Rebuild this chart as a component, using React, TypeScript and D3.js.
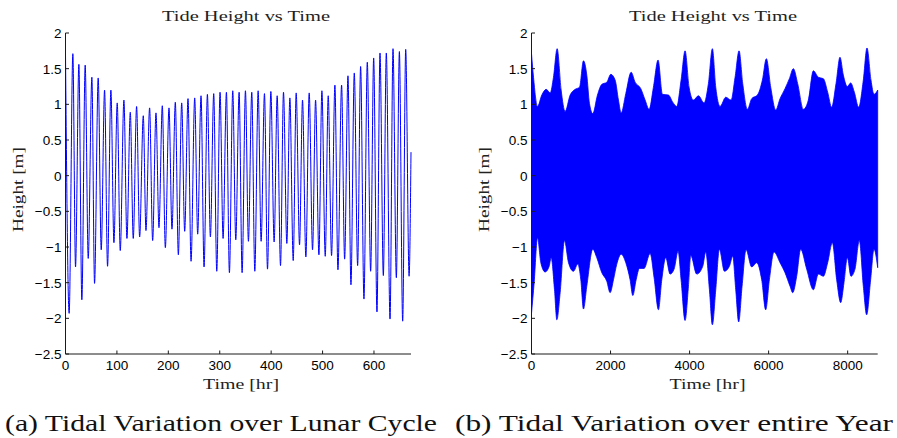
import React from 'react';
import * as d3 from 'd3';

// ---- Data ----
const yTickValues = [2, 1.5, 1, 0.5, 0, -0.5, -1, -1.5, -2, -2.5];
const lunarXTicks = [0, 100, 200, 300, 400, 500, 600];
const yearXTicks = [0, 2000, 4000, 6000, 8000];

// (a) Lunar cycle: high waters and low waters [hr], [m]
const lunarPeakTimes = [0, 14.3, 26.0, 38.3, 51.3, 63.6, 76.0, 88.3, 100.6, 113.6, 126.0, 138.3, 151.3, 163.6, 176.0, 188.3, 201.3, 213.6, 226.0, 238.3, 251.3, 263.6, 276.0, 288.3, 300.6, 313.0, 325.3, 337.7, 350.0, 362.3, 374.7, 387.0, 399.4, 411.7, 424.0, 436.4, 448.7, 461.0, 474.0, 486.4, 498.7, 511.0, 524.0, 537.0, 549.4, 561.7, 574.0, 587.0, 599.4, 611.7, 624.0, 637.0, 649.4, 661.7];
const lunarPeakValues = [1.70, 1.71, 1.56, 1.55, 1.38, 1.37, 1.20, 1.20, 1.02, 1.06, 0.89, 0.97, 0.84, 0.95, 0.88, 0.98, 0.95, 1.03, 1.02, 1.08, 1.09, 1.12, 1.14, 1.15, 1.17, 1.17, 1.19, 1.17, 1.19, 1.17, 1.19, 1.15, 1.18, 1.12, 1.17, 1.09, 1.16, 1.06, 1.16, 1.06, 1.19, 1.12, 1.27, 1.27, 1.40, 1.44, 1.53, 1.59, 1.65, 1.72, 1.72, 1.78, 1.74, 1.77];
const lunarTroughTimes = [7.1, 19.5, 31.8, 44.2, 56.5, 69.5, 81.8, 94.2, 106.5, 119.5, 131.8, 144.2, 156.5, 169.5, 181.8, 194.2, 207.1, 219.5, 231.8, 244.2, 257.1, 269.5, 281.8, 294.2, 306.5, 318.8, 331.2, 343.5, 355.8, 368.2, 380.5, 392.9, 405.8, 418.2, 430.5, 442.9, 455.2, 467.5, 480.5, 492.9, 505.2, 517.5, 529.9, 542.9, 555.2, 568.2, 580.5, 593.5, 605.8, 618.2, 631.2, 643.5, 655.8, 668.3];
const lunarTroughValues = [-1.93, -1.28, -1.74, -1.16, -1.51, -1.04, -1.27, -0.94, -1.05, -0.88, -0.88, -0.86, -0.77, -0.91, -0.73, -1.01, -0.75, -1.11, -0.78, -1.20, -0.82, -1.28, -0.86, -1.34, -0.88, -1.36, -0.90, -1.36, -0.92, -1.34, -0.92, -1.31, -0.93, -1.26, -0.95, -1.19, -0.97, -1.14, -1.04, -1.11, -1.13, -1.12, -1.32, -1.17, -1.53, -1.26, -1.73, -1.34, -1.91, -1.40, -2.01, -1.43, -2.04, -1.41];
const lunarEndTime = 672;
const lunarEndValue = 0.33;

// (b) Entire year: envelope of high waters and low waters [hr], [m]
const yearUpperTimes = [0, 51, 152, 261, 371, 472, 556, 649, 750, 851, 978, 1104, 1214, 1315, 1399, 1467, 1551, 1669, 1779, 1905, 2006, 2116, 2200, 2268, 2386, 2521, 2622, 2765, 2875, 2976, 3085, 3203, 3313, 3465, 3574, 3675, 3785, 3886, 3987, 4097, 4223, 4367, 4476, 4577, 4662, 4771, 4915, 5050, 5151, 5252, 5345, 5463, 5572, 5716, 5842, 5943, 6053, 6179, 6289, 6415, 6525, 6626, 6735, 6879, 7005, 7132, 7258, 7385, 7494, 7595, 7705, 7806, 7890, 7992, 8076, 8169, 8278, 8396, 8489, 8590, 8666, 8760];
const yearUpperValues = [1.71, 1.38, 0.97, 1.13, 1.21, 1.16, 1.38, 1.78, 1.20, 0.90, 1.13, 1.21, 1.24, 1.61, 1.41, 1.01, 0.87, 1.13, 1.28, 1.31, 1.42, 1.34, 1.06, 0.88, 1.15, 1.45, 1.31, 1.22, 1.06, 0.93, 1.24, 1.62, 1.14, 1.13, 1.03, 0.97, 1.34, 1.75, 1.24, 1.06, 1.12, 1.02, 1.29, 1.78, 1.24, 0.97, 1.10, 1.06, 1.38, 1.75, 1.29, 0.93, 1.08, 1.13, 1.34, 1.64, 1.24, 0.92, 1.08, 1.22, 1.36, 1.50, 1.29, 0.93, 1.06, 1.47, 1.38, 1.36, 1.17, 0.96, 1.29, 1.66, 1.41, 1.25, 1.30, 1.17, 0.96, 1.34, 1.79, 1.34, 1.14, 1.20];
const yearLowerTimes = [0, 67, 152, 236, 346, 447, 497, 582, 641, 725, 835, 936, 1062, 1172, 1248, 1315, 1399, 1551, 1652, 1779, 1905, 1989, 2074, 2158, 2268, 2386, 2495, 2563, 2647, 2731, 2849, 3001, 3102, 3212, 3296, 3397, 3507, 3608, 3709, 3785, 3886, 3971, 4030, 4181, 4333, 4409, 4502, 4577, 4662, 4754, 4881, 5007, 5092, 5168, 5243, 5328, 5429, 5572, 5699, 5825, 5926, 6019, 6137, 6289, 6415, 6542, 6609, 6710, 6811, 6963, 7132, 7258, 7385, 7494, 7612, 7722, 7823, 7907, 7992, 8084, 8185, 8295, 8396, 8480, 8581, 8666, 8760];
const yearLowerValues = [-1.93, -1.50, -0.87, -1.22, -1.35, -1.27, -1.15, -1.60, -2.02, -1.64, -0.91, -1.22, -1.34, -1.24, -1.46, -1.87, -1.55, -1.03, -1.15, -1.36, -1.48, -1.64, -1.46, -1.24, -1.10, -1.22, -1.46, -1.68, -1.46, -1.30, -1.30, -1.09, -1.43, -1.88, -1.46, -1.15, -1.38, -1.31, -1.06, -1.46, -2.03, -1.55, -1.12, -1.38, -1.27, -1.07, -1.60, -2.09, -1.60, -1.03, -1.34, -1.27, -1.13, -1.60, -2.05, -1.55, -1.04, -1.28, -1.22, -1.46, -1.88, -1.46, -1.07, -1.22, -1.36, -1.55, -1.64, -1.41, -1.03, -1.31, -1.60, -1.38, -1.41, -1.22, -0.94, -1.46, -1.78, -1.50, -1.15, -1.41, -1.31, -0.91, -1.55, -1.95, -1.46, -1.03, -1.29];

const titleText = 'Tide Height vs Time';
const xLabelText = 'Time [hr]';
const yLabelText = 'Height [m]';
const captionA = '(a) Tidal Variation over Lunar Cycle';
const captionB = '(b) Tidal Variation over entire Year';

// ---- Layout ----
const W = 897;
const H = 438;
const PLOT_TOP = 33;
const PLOT_BOTTOM = 354;
const SERIF = "'Liberation Serif', 'Times New Roman', 'DejaVu Serif', serif";
const SANS = "'Liberation Sans', Arial, Helvetica, sans-serif";
const AXIS_COLOR = '#1a1a1a';
const LINE_BLUE = '#0000ff';

const yScale = d3.scaleLinear().domain([-2.5, 2]).range([PLOT_BOTTOM, PLOT_TOP]);

function fmt(v: number): string {
  const s = String(Math.abs(v));
  return v < 0 ? '\u2212' + s : s;
}

const sansStyle: React.CSSProperties = { fontFamily: SANS, fontSize: '13.5px' };
const serifStyle: React.CSSProperties = { fontFamily: SERIF, fontSize: '14.5px' };

type AxesProps = {
  x: d3.ScaleLinear<number, number>;
  xTicks: number[];
  titleX: number;
  xLabelX: number;
  yLabelX: number;
  children?: React.ReactNode;
};

function Axes({ x, xTicks, titleX, xLabelX, yLabelX, children }: AxesProps) {
  const [x0, x1] = x.range();
  const tickLen = 3.5;
  return (
    <g>
      {children}
      <line x1={x0} x2={x0} y1={PLOT_TOP} y2={PLOT_BOTTOM} stroke={AXIS_COLOR} strokeWidth={1} />
      {yTickValues.map((v) => (
        <g key={'y' + v}>
          <line x1={x0} x2={x0 + tickLen} y1={yScale(v)} y2={yScale(v)} stroke={AXIS_COLOR} strokeWidth={1} />
          <text x={x0 - 4} y={yScale(v)} dy="0.36em" textAnchor="end" style={sansStyle} fill="#000">
            {fmt(v)}
          </text>
        </g>
      ))}
      <line x1={x0} x2={x1} y1={PLOT_BOTTOM} y2={PLOT_BOTTOM} stroke={AXIS_COLOR} strokeWidth={1} />
      {xTicks.map((v) => (
        <g key={'x' + v}>
          <line x1={x(v)} x2={x(v)} y1={PLOT_BOTTOM} y2={PLOT_BOTTOM - tickLen} stroke={AXIS_COLOR} strokeWidth={1} />
          <text x={x(v)} y={369.5} textAnchor="middle" style={sansStyle} fill="#000">
            {fmt(v)}
          </text>
        </g>
      ))}
      <text x={titleX} y={21} textAnchor="middle" style={serifStyle} fill="#222"
        textLength={168} lengthAdjust="spacingAndGlyphs">
        {titleText}
      </text>
      <text x={xLabelX} y={389} textAnchor="middle" style={serifStyle} fill="#222"
        textLength={76} lengthAdjust="spacingAndGlyphs">
        {xLabelText}
      </text>
      <text transform={`translate(${yLabelX},189.5) rotate(-90)`} textAnchor="middle" style={serifStyle}
        fill="#222" textLength={85} lengthAdjust="spacingAndGlyphs">
        {yLabelText}
      </text>
    </g>
  );
}

export default function App() {
  const xLunar = d3.scaleLinear().domain([0, 672]).range([65.5, 411]);
  const xYear = d3.scaleLinear().domain([0, 8760]).range([531.5, 877.7]);

  const lunarPts: [number, number][] = [];
  lunarPeakTimes.forEach((t, i) => lunarPts.push([t, lunarPeakValues[i]]));
  lunarTroughTimes.forEach((t, i) => lunarPts.push([t, lunarTroughValues[i]]));
  lunarPts.push([lunarEndTime, lunarEndValue]);
  lunarPts.sort((a, b) => a[0] - b[0]);

  const lunarLine = d3
    .line<[number, number]>()
    .x((d) => xLunar(d[0]))
    .y((d) => yScale(d[1]))
    .curve(d3.curveMonotoneX);

  const upper: [number, number][] = yearUpperTimes.map((t, i) => [t, yearUpperValues[i]]);
  const lower: [number, number][] = yearLowerTimes.map((t, i) => [t, yearLowerValues[i]]);
  const envLine = d3
    .line<[number, number]>()
    .x((d) => xYear(d[0]))
    .y((d) => yScale(d[1]))
    .curve(d3.curveMonotoneX);
  const upperPath = envLine(upper) || '';
  const lowerBack = (envLine(lower.slice().reverse()) || '').replace(/^M/, 'L');
  const yearPath = upperPath + lowerBack + 'Z';

  return (
    <svg width={W} height={H} viewBox={`0 0 ${W} ${H}`}
      style={{ position: 'absolute', left: 0, top: 0, background: '#fff', display: 'block' }}>
      <rect x={0} y={0} width={W} height={H} fill="#fff" />
      <Axes x={xLunar} xTicks={lunarXTicks} titleX={246} xLabelX={241} yLabelX={23}>
        <path d={lunarLine(lunarPts) || ''} fill="none" stroke={LINE_BLUE} strokeWidth={1} />
      </Axes>
      <Axes x={xYear} xTicks={yearXTicks} titleX={713} xLabelX={707.5} yLabelX={488.6}>
        <path d={yearPath} fill={LINE_BLUE} stroke={LINE_BLUE} strokeWidth={0.8} strokeLinejoin="round" />
      </Axes>
      <text x={221} y={431} textAnchor="middle" style={{ fontFamily: SERIF, fontSize: '23px' }} fill="#111"
        textLength={432} lengthAdjust="spacingAndGlyphs">
        {captionA}
      </text>
      <text x={674} y={431} textAnchor="middle" style={{ fontFamily: SERIF, fontSize: '23px' }} fill="#111"
        textLength={438} lengthAdjust="spacingAndGlyphs">
        {captionB}
      </text>
    </svg>
  );
}
